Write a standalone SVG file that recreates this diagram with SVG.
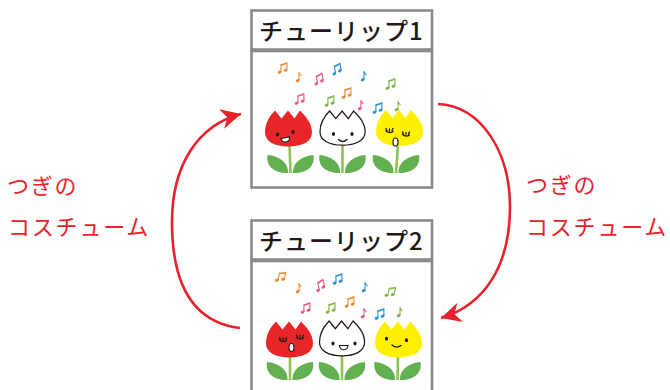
<svg xmlns="http://www.w3.org/2000/svg" xmlns:xlink="http://www.w3.org/1999/xlink" width="670" height="390" viewBox="0 0 670 390">
  <style>
    .frame { fill: #ffffff; stroke: #8a8a8a; stroke-width: 2.6; }
    .title { font-family: "Noto Sans CJK JP", "Noto Sans", sans-serif; font-size: 24px; font-weight: 500; fill: #231815; letter-spacing: 1px; }
    .label { font-family: "Noto Sans CJK JP", "Noto Sans", sans-serif; font-size: 22px; fill: #e8212a; letter-spacing: 1.8px; }
    .arc { fill: none; stroke: #e8212a; stroke-width: 2.6; }
    .ink { fill: none; stroke: #231815; stroke-width: 1.3; stroke-linecap: round; }
    .dot { fill: #231815; }
    .mouth { fill: #ffffff; stroke: #231815; stroke-width: 1.2; }
    .stem { stroke: #8cc44e; stroke-width: 2.6; fill: none; }
    .leaf { fill: #62b04f; }
    .red { fill: #e8262a; }
    .yellow { fill: #fff000; }
    .white { fill: #ffffff; stroke: #231815; stroke-width: 1.3; }
    .note { fill: currentColor; stroke: currentColor; }
  </style>
  <defs>
    <marker id="head-arrow" markerUnits="userSpaceOnUse" markerWidth="24" markerHeight="24" refX="20" refY="10" orient="auto">
      <path d="M0 0 L20 10 L0 20 L6 10 Z" fill="#e8212a"/>
    </marker>
    <!-- tulip flower head, 47 x 36 -->
    <path id="bloom" d="M10 0 L16.5 8 L23 0 L29.5 8 L35 0 C40 5 47 12 47 22 C47 31 37 36 23.5 36 C10 36 0 31 0 22 C0 12 5 5 10 0 Z"/>
    <!-- pair of leaves, origin at stem foot -->
    <g id="leaves" class="leaf">
      <path d="M-2.5 0 C-2 -11 -12 -17 -23 -18 C-25 -6 -15 0.5 -2.5 0 Z"/>
      <path d="M2.5 0 C2 -11 12 -17 23 -18 C25 -6 15 0.5 2.5 0 Z"/>
    </g>
    <!-- eighth note -->
    <g id="n1" class="note">
      <path d="M3 8.5 V0 Q3.5 2.5 5.5 4" fill="none" stroke-width="1.1"/>
      <ellipse cx="1.7" cy="8.6" rx="2" ry="1.5" transform="rotate(-25 1.7 8.6)" stroke="none"/>
    </g>
    <!-- beamed eighth notes -->
    <g id="n2" class="note">
      <path d="M2.9 10 V2.2 M8.9 8 V0.2" fill="none" stroke-width="1.1"/>
      <path d="M2.9 2.2 L8.9 0.2 L8.9 2 L2.9 4 Z" stroke="none"/>
      <ellipse cx="1.6" cy="10.1" rx="2" ry="1.5" transform="rotate(-25 1.6 10.1)" stroke="none"/>
      <ellipse cx="7.6" cy="8.1" rx="2" ry="1.5" transform="rotate(-25 7.6 8.1)" stroke="none"/>
    </g>
  </defs>

  <rect width="670" height="390" fill="#ffffff"/>

  <!-- costume 1 -->
  <g id="tulip-1">
    <rect class="frame" x="251.5" y="10.5" width="180.5" height="39"/>
    <rect class="frame" x="251.5" y="51" width="180.5" height="136.5"/>
    <text class="title" x="259" y="39.5">チューリップ1</text>
    <g id="notes-1">
      <use xlink:href="#n2" transform="translate(278 62)" style="color:#ec8a33"/>
      <use xlink:href="#n1" transform="translate(296 72)" style="color:#ec8a33"/>
      <use xlink:href="#n2" transform="translate(313 74) rotate(-10)" style="color:#ea5a7f"/>
      <use xlink:href="#n2" transform="translate(331 64) rotate(-10)" style="color:#2b8fd3"/>
      <use xlink:href="#n2" transform="translate(295 93)" style="color:#ea5a7f"/>
      <use xlink:href="#n2" transform="translate(325 95)" style="color:#7db543"/>
      <use xlink:href="#n2" transform="translate(342 87)" style="color:#ec8a33"/>
      <use xlink:href="#n1" transform="translate(361 71)" style="color:#2b8fd3"/>
      <use xlink:href="#n2" transform="translate(386 78)" style="color:#7db543"/>
      <use xlink:href="#n1" transform="translate(358 100)" style="color:#ea5a7f"/>
      <use xlink:href="#n2" transform="translate(373 102)" style="color:#2b8fd3"/>
      <use xlink:href="#n1" transform="translate(395 101)" style="color:#7db543"/>
    </g>
    <!-- red -->
    <path class="stem" d="M289.5 145 L290.5 173"/>
    <use xlink:href="#leaves" transform="translate(290.5 173)"/>
    <use xlink:href="#bloom" class="red" transform="translate(265 110.5)"/>
    <ellipse class="dot" cx="277.5" cy="134.5" rx="1.6" ry="2"/>
    <ellipse class="dot" cx="293" cy="132" rx="1.6" ry="2"/>
    <path class="mouth" d="M281 138.5 L289.5 137 A4.3 4.3 0 0 1 281 138.5 Z"/>
    <!-- white -->
    <path class="stem" d="M342.5 145 L342.5 173"/>
    <use xlink:href="#leaves" transform="translate(342.5 173)"/>
    <use xlink:href="#bloom" class="white" transform="translate(320 111) scale(0.96 0.95)"/>
    <ellipse class="dot" cx="333.5" cy="134" rx="1.6" ry="2"/>
    <ellipse class="dot" cx="352" cy="134" rx="1.6" ry="2"/>
    <path class="ink" d="M338.5 139.5 Q342.7 143.5 347 139.5"/>
    <!-- yellow -->
    <path class="stem" d="M398 145 L396 173"/>
    <use xlink:href="#leaves" transform="translate(396 173)"/>
    <use xlink:href="#bloom" class="yellow" transform="translate(376 110)"/>
    <path class="ink" d="M386 131 Q389.5 134 393 131.5 M387 130.5 L386 128.5 M389.5 131 L389.5 129 M392 130.5 L393 128.5"/>
    <path class="ink" d="M402.5 134.5 Q406 137.5 409.5 135 M403.5 134 L402.5 132 M406 134.5 L406 132.5 M408.5 134 L409.5 132"/>
    <ellipse class="mouth" cx="395.5" cy="142" rx="2.5" ry="4"/>
  </g>

  <!-- costume 2 -->
  <g id="tulip-2">
    <rect class="frame" x="251.5" y="220.5" width="180.5" height="39"/>
    <rect class="frame" x="251.5" y="261" width="180.5" height="140"/>
    <text class="title" x="259" y="249.5">チューリップ2</text>
    <g id="notes-2">
      <use xlink:href="#n2" transform="translate(277 270) rotate(10)" style="color:#ec8a33"/>
      <use xlink:href="#n1" transform="translate(296 283)" style="color:#ec8a33"/>
      <use xlink:href="#n2" transform="translate(314 281) rotate(-15)" style="color:#ea5a7f"/>
      <use xlink:href="#n2" transform="translate(333 273)" style="color:#2b8fd3"/>
      <use xlink:href="#n1" transform="translate(362 282)" style="color:#2b8fd3"/>
      <use xlink:href="#n2" transform="translate(387 285) rotate(12)" style="color:#7db543"/>
      <use xlink:href="#n2" transform="translate(301 302)" style="color:#ea5a7f"/>
      <use xlink:href="#n2" transform="translate(326 302)" style="color:#7db543"/>
      <use xlink:href="#n2" transform="translate(345 296)" style="color:#ec8a33"/>
      <use xlink:href="#n1" transform="translate(361 308)" style="color:#ea5a7f"/>
      <use xlink:href="#n2" transform="translate(375 308)" style="color:#2b8fd3"/>
      <use xlink:href="#n1" transform="translate(397 307)" style="color:#7db543"/>
    </g>
    <!-- red -->
    <path class="stem" d="M290 356 L290 380"/>
    <use xlink:href="#leaves" transform="translate(290 380)"/>
    <use xlink:href="#bloom" class="red" transform="translate(266 321.5)"/>
    <path class="ink" d="M279.5 340 Q283 343 286.5 340.5 M280.5 339.5 L279.5 337.5 M283 340 L283 338 M285.5 339.5 L286.5 337.5"/>
    <path class="ink" d="M296.5 337.5 Q300 340.5 303.5 338 M297.5 337 L296.5 335 M300 337.5 L300 335.5 M302.5 337 L303.5 335"/>
    <ellipse class="mouth" cx="291.5" cy="347.5" rx="2.5" ry="4"/>
    <!-- white -->
    <path class="stem" d="M342 356 L342 380"/>
    <use xlink:href="#leaves" transform="translate(342 380)"/>
    <use xlink:href="#bloom" class="white" transform="translate(319.5 321) scale(0.96 0.97)"/>
    <ellipse class="dot" cx="333" cy="343.5" rx="1.6" ry="2"/>
    <ellipse class="dot" cx="355" cy="343.5" rx="1.6" ry="2"/>
    <path class="mouth" d="M339.5 345.5 L348 345.5 A4.25 4.25 0 0 1 339.5 345.5 Z"/>
    <!-- yellow -->
    <path class="stem" d="M398 356 L397.5 380"/>
    <use xlink:href="#leaves" transform="translate(397.5 380)"/>
    <use xlink:href="#bloom" class="yellow" transform="translate(375 321.5)"/>
    <ellipse class="dot" cx="386.5" cy="338.7" rx="1.6" ry="2"/>
    <ellipse class="dot" cx="406.5" cy="340.3" rx="1.6" ry="2"/>
    <path class="ink" d="M392 345 Q396.5 349 401 345.5"/>
  </g>

  <!-- transitions between costumes -->
  <g id="connectors">
    <path class="arc" d="M438 104 C480 106 510 150 510 207 C510 265 485 305 441 318" marker-end="url(#head-arrow)"/>
    <path class="arc" d="M240 328 C190 322 172 280 172 222 C172 165 198 125 241 114" marker-end="url(#head-arrow)"/>
    <text class="label" x="7" y="194">つぎの</text>
    <text class="label" x="8" y="235">コスチューム</text>
    <text class="label" x="526" y="193">つぎの</text>
    <text class="label" x="526" y="235">コスチューム</text>
  </g>
</svg>
